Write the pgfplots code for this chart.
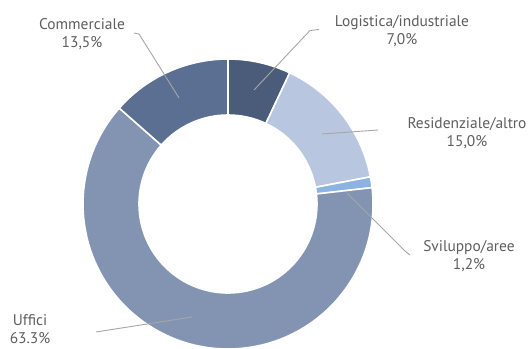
\documentclass[border=0pt]{standalone}
\usepackage{pgfplots}
\pgfplotsset{compat=1.18}
\usepackage{fontspec}
\setmainfont{PT Sans}
\definecolor{logi}{HTML}{4B5B7A}
\definecolor{resi}{HTML}{B9C6DF}
\definecolor{svil}{HTML}{8DB3E2}
\definecolor{uff}{HTML}{8394B3}
\definecolor{comm}{HTML}{5B6F93}
\definecolor{lab}{HTML}{5E5E5E}
\definecolor{lead}{HTML}{A6A6A6}
% shares (percent)
\def\vLog{7.0}\def\vRes{15.0}\def\vSvi{1.2}\def\vUff{63.3}\def\vCom{13.5}
\pgfmathsetmacro\aA{90}
\pgfmathsetmacro\aB{\aA-3.6*\vLog}
\pgfmathsetmacro\aC{\aB-3.6*\vRes}
\pgfmathsetmacro\aD{\aC-3.6*\vSvi}
\pgfmathsetmacro\aE{\aD-3.6*\vUff}
\pgfmathsetmacro\aF{\aE-3.6*\vCom}
\def\Ro{145bp}\def\Ri{89bp}
\newcommand\donutseg[3]{\fill[#3,draw=white,line width=1.6bp] ([shift={(#1:\Ro)}]C) arc[start angle=#1,end angle=#2,radius=\Ro] -- ([shift={(#2:\Ri)}]C) arc[start angle=#2,end angle=#1,radius=\Ri] -- cycle;}
\begin{document}
\begin{tikzpicture}
\begin{axis}[width=531bp,height=349bp,scale only axis,xmin=0,xmax=531,ymin=0,ymax=349,hide axis,clip=true]
\addplot[draw=none,forget plot] coordinates {(0,0) (531,349)};
\coordinate (SW) at (axis cs:0,0);
\coordinate (NE) at (axis cs:531,349);
\coordinate (C) at (axis cs:228,145);
\donutseg{\aA}{\aB}{logi}
\donutseg{\aB}{\aC}{resi}
\donutseg{\aC}{\aD}{svil}
\donutseg{\aD}{\aE}{uff}
\donutseg{\aE}{\aF}{comm}
\draw[lead,line width=0.9bp] (axis cs:319,319.5) -- (axis cs:310,318.5) -- (axis cs:254,259);
\draw[lead,line width=0.9bp] (axis cs:134,316) -- (axis cs:139,315) -- (axis cs:179,251);
\draw[lead,line width=0.9bp] (axis cs:378,219) -- (axis cs:322,215);
\draw[lead,line width=0.9bp] (axis cs:347,156) -- (axis cs:405,98) -- (axis cs:410,94);
\draw[lead,line width=0.9bp] (axis cs:96,17) -- (axis cs:192,32);
\begin{scope}[every node/.style={align=center,text=lab,font=\fontsize{15.5}{18}\selectfont,inner sep=0pt}]
\node at (axis cs:402,317.5) {Logistica/industriale\\7,0\%};
\node at (axis cs:467,216) {Residenziale/altro\\15,0\%};
\node at (axis cs:469,92.5) {Sviluppo/aree\\1,2\%};
\node at (axis cs:30,20) {Uffici\\63.3\%};
\node at (axis cs:82,315) {Commerciale\\13,5\%};
\end{scope}
\end{axis}
\pgfresetboundingbox
\useasboundingbox (SW) rectangle (NE);
\end{tikzpicture}
\end{document}
